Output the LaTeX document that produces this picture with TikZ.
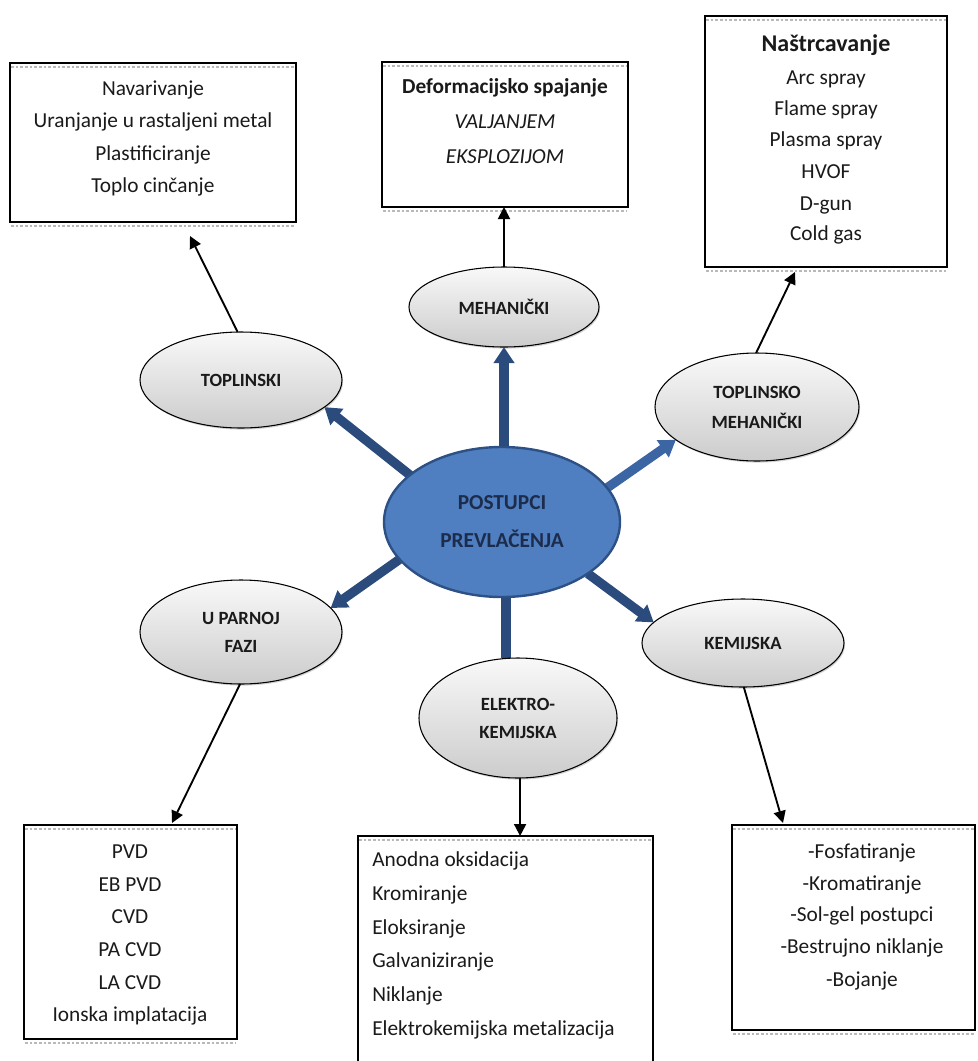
\documentclass[tikz,border=0pt]{standalone}
\usepackage{fontspec}
\setmainfont{Carlito}
\usetikzlibrary{arrows.meta,shadows,calc,backgrounds,shapes.geometric}
\definecolor{navy}{HTML}{2A4B7C}
\definecolor{navyl}{HTML}{3B66A3}
\definecolor{cfill}{HTML}{4F7FC0}
\definecolor{cborder}{HTML}{2D5185}
\definecolor{ctext}{HTML}{1C2C4C}
\definecolor{txt}{HTML}{1A1A1A}
\begin{document}
\begin{tikzpicture}[x=0.75pt,y=-0.75pt,
 box/.style={draw=black,line width=1.1pt,fill=white,inner sep=0pt,outer sep=0pt},
 oval/.style={ellipse,draw=black,line width=0.8pt,top color=gray!5,bottom color=gray!40,inner sep=0pt,outer sep=0pt,font=\fontsize{14}{21}\selectfont\bfseries,text=txt,align=center,drop shadow={opacity=0.35,shadow xshift=0.8pt,shadow yshift=-1.2pt}},
 btxt/.style={anchor=mid,font=\fontsize{16}{19}\selectfont,text=txt,inner sep=0pt},
 big/.style={line width=7pt,draw=navy,-{Triangle[length=12pt,width=15pt]}},
 thin/.style={line width=1.4pt,draw=black,-{Triangle[length=9pt,width=9pt]}},
 edge/.style={gray!55,line width=0.8pt,dash pattern=on 2pt off 1.5pt},
]
\useasboundingbox (0,0) rectangle (978,1061);
\clip (0,0) rectangle (978,1061);

% boxes
\node[box,minimum width=214.5pt,minimum height=119.25pt] (b1) at (153,142.5) {};
\node[box,minimum width=184.5pt,minimum height=108.75pt] (b2) at (505,134.5) {};
\node[box,minimum width=181.5pt,minimum height=188.25pt] (b3) at (826,141.5) {};
\node[box,minimum width=159.75pt,minimum height=160.5pt] (b4) at (130.5,932) {};
\node[box,minimum width=221.25pt,minimum height=183pt] (b5) at (505.5,958) {};
\node[box,minimum width=182.25pt,minimum height=153.75pt] (b6) at (853.5,927.5) {};
\foreach \b in {b1,b2,b3,b4,b6}{
  \draw[edge] ($(\b.north west)+(1,4)$) -- ($(\b.north east)+(-1,4)$);
  \draw[edge] ($(\b.south west)+(1,4)$) -- ($(\b.south east)+(-1,4)$);
}
\draw[edge] ($(b5.north west)+(1,4)$) -- ($(b5.north east)+(-1,4)$);

% box texts
\node[btxt] (t11) at (153,92) {Navarivanje};
\node[btxt] (t12) at (153,124) {Uranjanje u rastaljeni metal};
\node[btxt] (t13) at (153,157) {Plastificiranje};
\node[btxt] (t14) at (153,189) {Toplo cinčanje};

\node[btxt,font=\fontsize{16}{19}\selectfont\bfseries] (t21) at (505,90) {Deformacijsko spajanje};
\node[btxt,font=\fontsize{16}{19}\selectfont\itshape] (t22) at (505,125) {VALJANJEM};
\node[btxt,font=\fontsize{16}{19}\selectfont\itshape] (t23) at (505,160) {EKSPLOZIJOM};

\node[btxt,font=\fontsize{18}{21}\selectfont\bfseries] (t31) at (826,48) {Naštrcavanje};
\node[btxt] (t32) at (826,81) {Arc spray};
\node[btxt] (t33) at (826,112) {Flame spray};
\node[btxt] (t34) at (826,143) {Plasma spray};
\node[btxt] (t35) at (826,175) {HVOF};
\node[btxt] (t36) at (826,207) {D-gun};
\node[btxt] (t37) at (826,237) {Cold gas};

\node[btxt] (t41) at (130,855) {PVD};
\node[btxt] (t42) at (130,888) {EB PVD};
\node[btxt] (t43) at (130,920) {CVD};
\node[btxt] (t44) at (130,953) {PA CVD};
\node[btxt] (t45) at (130,986) {LA CVD};
\node[btxt] (t46) at (130,1018) {Ionska implatacija};

\node[btxt,anchor=mid west] (t51) at (372,863) {Anodna oksidacija};
\node[btxt,anchor=mid west] (t52) at (372,897) {Kromiranje};
\node[btxt,anchor=mid west] (t53) at (372,931) {Eloksiranje};
\node[btxt,anchor=mid west] (t54) at (372,964) {Galvaniziranje};
\node[btxt,anchor=mid west] (t55) at (372,998) {Niklanje};
\node[btxt,anchor=mid west] (t56) at (372,1032) {Elektrokemijska metalizacija};

\node[btxt] (t61) at (862,855) {-Fosfatiranje};
\node[btxt] (t62) at (862,887) {-Kromatiranje};
\node[btxt] (t63) at (862,918) {-Sol-gel postupci};
\node[btxt] (t64) at (862,950) {-Bestrujno niklanje};
\node[btxt] (t65) at (862,983) {-Bojanje};

% ellipses
\node[oval,minimum width=151.5pt,minimum height=72pt] (topl) at (241,380) {TOPLINSKI};
\node[oval,minimum width=142.5pt,minimum height=60pt] (meh) at (504,307) {MEHANIČKI};
\node[oval,minimum width=153pt,minimum height=81pt,font=\fontsize{14}{22.5}\selectfont\bfseries] (tm) at (757,407) {TOPLINSKO\\MEHANIČKI};
\node[oval,minimum width=151.5pt,minimum height=78pt] (par) at (241,632) {U PARNOJ\\FAZI};
\node[oval,minimum width=148.5pt,minimum height=90pt] (el) at (518,718) {ELEKTRO-\\KEMIJSKA};
\node[oval,minimum width=151.5pt,minimum height=66pt] (kem) at (743,643) {KEMIJSKA};
\node[ellipse,draw=cborder,line width=1.8pt,fill=cfill,inner sep=0pt,outer sep=0pt,minimum width=177pt,minimum height=112.5pt,align=center,text=ctext,font=\fontsize{16}{28.5}\selectfont\bfseries] (c) at (502,522) {POSTUPCI\\PREVLAČENJA};

% free ends of black connectors
\coordinate (e1) at (190,236);
\coordinate (e3) at (795,272);
\coordinate (e4) at (172,823);
\coordinate (e6) at (783,823);

\begin{scope}[on background layer]
\draw[big] (c.153) -- (topl.-18);
\draw[big] (c.north -| meh.south) -- (meh.south);
\draw[big,draw=navyl] (c.18) -- (tm.202);
\draw[big] (c.200) -- (par.15);
\draw[line width=7pt,draw=navy] (c.-87) -- (c.-87 |- el.north);
\draw[big] (c.-31) -- (kem.167);
\end{scope}

\draw[thin] (topl.94) -- (e1);
\draw[thin] (meh.north) -- (b2.south -| meh.north);
\draw[thin] (tm.91) -- (e3);
\draw[thin] (par.-91) -- (e4);
\draw[thin] (el.-88) -- (el.-88 |- b5.north);
\draw[thin] (kem.-89) -- (e6);
\end{tikzpicture}
\end{document}
